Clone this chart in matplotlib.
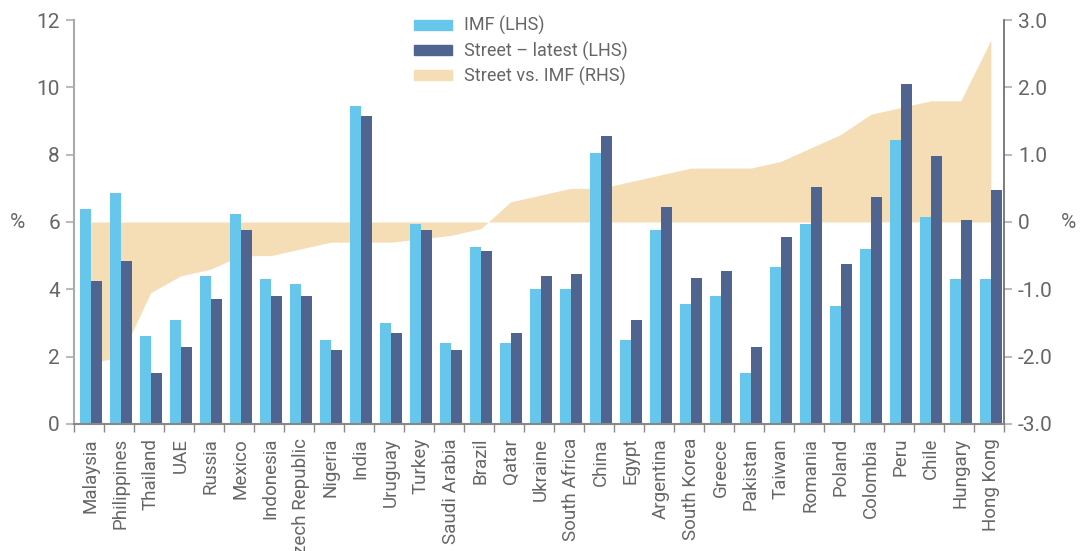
import matplotlib
matplotlib.use("Agg")
import matplotlib.pyplot as plt
import numpy as np
from matplotlib.patches import Patch

plt.rcParams['font.family'] = ['Roboto', 'DejaVu Sans']

countries = ["Malaysia", "Philippines", "Thailand", "UAE", "Russia", "Mexico",
             "Indonesia", "Czech Republic", "Nigeria", "India", "Uruguay", "Turkey",
             "Saudi Arabia", "Brazil", "Qatar", "Ukraine", "South Africa", "China",
             "Egypt", "Argentina", "South Korea", "Greece", "Pakistan", "Taiwan",
             "Romania", "Poland", "Colombia", "Peru", "Chile", "Hungary", "Hong Kong"]
imf = [6.4, 6.85, 2.6, 3.1, 4.4, 6.25, 4.3, 4.15, 2.5, 9.45, 3.0, 5.95,
       2.4, 5.25, 2.4, 4.0, 4.0, 8.05, 2.5, 5.75, 3.55, 3.8, 1.5, 4.65,
       5.95, 3.5, 5.2, 8.45, 6.15, 4.3, 4.3]
street = [4.25, 4.85, 1.5, 2.3, 3.7, 5.75, 3.8, 3.8, 2.2, 9.15, 2.7, 5.75,
          2.2, 5.15, 2.7, 4.4, 4.45, 8.55, 3.1, 6.45, 4.35, 4.55, 2.3, 5.55,
          7.05, 4.75, 6.75, 10.1, 7.95, 6.05, 6.95]
diff = [-2.1, -2.0, -1.05, -0.8, -0.7, -0.5, -0.5, -0.4, -0.3, -0.3, -0.3, -0.25,
        -0.2, -0.1, 0.3, 0.4, 0.5, 0.5, 0.6, 0.7, 0.8, 0.8, 0.8, 0.9,
        1.1, 1.3, 1.6, 1.7, 1.8, 1.8, 2.7]

light = "#66c6ec"
dark = "#4f648e"
sand = "#f5deb6"
txt = "#666666"

fig = plt.figure(figsize=(10.86, 5.51), dpi=100)
ax = fig.add_axes([0.068, 0.2305, 0.8565, 0.7332])
ax2 = ax.twinx()

x = np.arange(len(countries))
w = 0.367
off = 0.06  # bar pairs sit slightly right of the category centre

ax2.fill_between(x + off, 0, diff, color=sand, linewidth=0, zorder=1)
ax2.set_ylim(-3, 3)

ax.set_zorder(ax2.get_zorder() + 1)
ax.patch.set_visible(False)
ax.bar(x - w / 2 + off, imf, w, color=light, zorder=2)
ax.bar(x + w / 2 + off, street, w, color=dark, zorder=2)
ax.set_ylim(0, 12)
ax.set_xlim(-0.5, len(countries) - 0.5)

ax.set_yticks(range(0, 13, 2))
ax.set_xticks(np.arange(-0.5, len(countries), 1))
ax.set_xticklabels([])
ax.set_xticks(x + off, minor=True)
ax.set_xticklabels(countries, minor=True, rotation=90, fontsize=13.5, color=txt)
ax.tick_params(axis='x', which='minor', length=0, pad=10)
ax.tick_params(axis='x', which='major', length=6, color="#888888", width=1)
ax.tick_params(axis='y', length=6, color="#bbbbbb", width=1.5, labelsize=15, labelcolor=txt, pad=4)

ax2.set_yticks([-3, -2, -1, 0, 1, 2, 3])
ax2.set_yticklabels(["-3.0", "-2.0", "-1.0", "0", "1.0", "2.0", "3.0"])
ax2.tick_params(axis='y', length=6, color="#bbbbbb", width=1.5, labelsize=15, labelcolor=txt, pad=4)

for a in (ax, ax2):
    a.spines['top'].set_visible(False)
ax.spines['left'].set_color("#aaaaaa")
ax.spines['left'].set_linewidth(1.5)
ax.spines['bottom'].set_color("#888888")
ax.spines['bottom'].set_linewidth(1.5)
ax.spines['right'].set_visible(False)
ax2.spines['left'].set_visible(False)
ax2.spines['bottom'].set_visible(False)
ax2.spines['right'].set_color("#666666")
ax2.spines['right'].set_linewidth(1.2)

fig.text(17 / 1086, 1 - 222 / 551, "%", fontsize=15, color=txt, ha='center', va='center')
fig.text(1068 / 1086, 1 - 222 / 551, "%", fontsize=15, color=txt, ha='center', va='center')

handles = [Patch(color=light, label="IMF (LHS)"),
           Patch(color=dark, label="Street \u2013 latest (LHS)"),
           Patch(color=sand, label="Street vs. IMF (RHS)")]
leg = fig.legend(handles=handles, loc='upper left', bbox_to_anchor=(398 / 1086, 1.0),
                 frameon=False, fontsize=13, handlelength=2.1, handleheight=0.45,
                 labelspacing=0.33, handletextpad=0.65)
for t in leg.get_texts():
    t.set_color(txt)

fig.savefig("out.png", dpi=100)
